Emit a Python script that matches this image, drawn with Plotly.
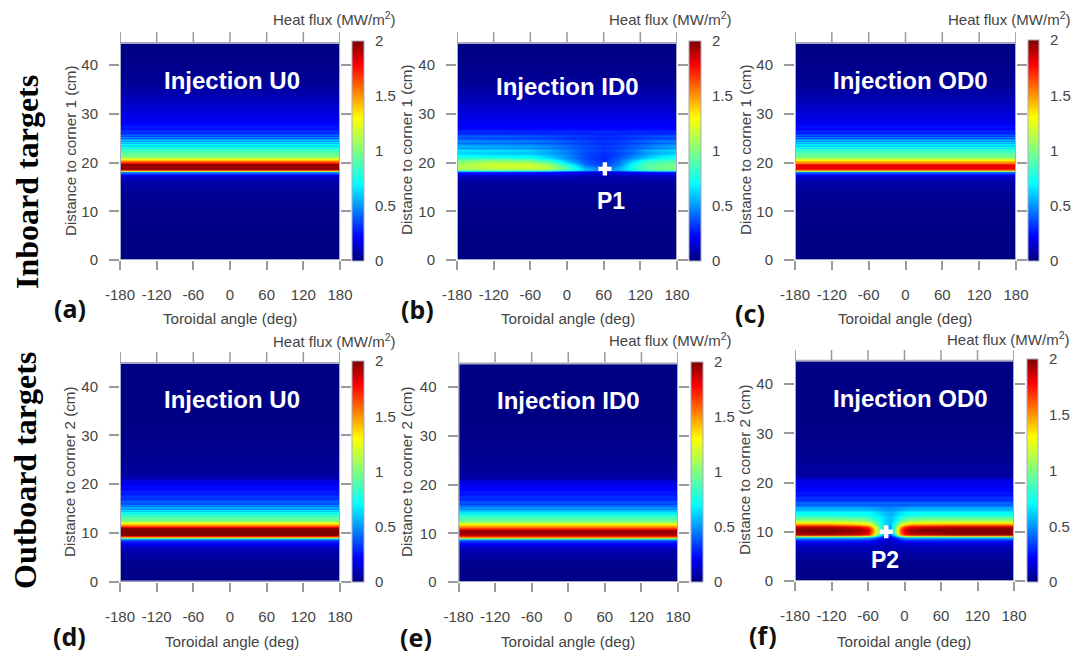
import plotly.graph_objects as go

W, H = 1079, 657
FONT = "Liberation Sans"
INK = "#444444"
FRAME = "#a9a9c2"
TICK = "#9a9a9a"

TOROIDAL_TICKS = [-180, -120, -60, 0, 60, 120, 180]
TOROIDAL_LABELS = ["-180", "-120", "-60", "0", "60", "120", "180"]
DISTANCE_TICKS = [0, 10, 20, 30, 40]
COLORBAR_TICKS = [0, 0.5, 1, 1.5, 2]
COLORBAR_LABELS = ["0", "0.5", "1", "1.5", "2"]

JET = [[0, "#00007f"], [0.11, "#0000ff"], [0.35, "#00ffff"], [0.5, "#7fff7f"],
       [0.65, "#ffff00"], [0.89, "#ff0000"], [1, "#7f0000"]]

# ---- inboard targets: distance to corner 1 (cm) ----
ends = [-180, 180]
y_in = [0, 5, 10, 14, 16, 17, 17.5, 18, 18.25, 18.5, 18.75, 19, 19.25, 19.5, 19.75, 20, 20.25,
        20.5, 20.75, 21, 21.25, 21.5, 21.75, 22, 22.25, 22.5, 22.75, 23, 23.25, 23.5, 23.75, 24,
        24.25, 24.5, 24.75, 25, 25.25, 25.5, 25.75, 26, 26.5, 27, 27.5, 28, 29, 30, 31, 32, 34,
        36, 38, 40, 44.4, 44.5]
flux_a = [0.01, 0.01, 0.02, 0.04, 0.07, 0.12, 0.2, 0.5, 1.2, 1.7, 1.95, 2.0, 1.92, 2.0, 1.95,
          1.75, 1.55, 1.4, 1.3, 1.1, 1.05, 0.95, 1.0, 0.85, 0.92, 0.8, 0.86, 0.68, 0.78, 0.62,
          0.7, 0.56, 0.64, 0.5, 0.6, 0.38, 0.5, 0.33, 0.42, 0.28, 0.32, 0.24, 0.27, 0.22, 0.19,
          0.18, 0.14, 0.13, 0.08, 0.05, 0.03, 0.02, 0.01, 0.01]
flux_c = [0.01, 0.01, 0.02, 0.04, 0.07, 0.12, 0.2, 0.45, 1.1, 1.55, 1.75, 1.85, 1.78, 1.85, 1.7,
          1.55, 1.42, 1.3, 1.2, 1.05, 1.0, 0.92, 0.98, 0.82, 0.9, 0.78, 0.84, 0.66, 0.76, 0.6,
          0.68, 0.54, 0.62, 0.48, 0.58, 0.36, 0.48, 0.31, 0.4, 0.26, 0.3, 0.22, 0.25, 0.2, 0.17,
          0.16, 0.13, 0.11, 0.07, 0.04, 0.03, 0.02, 0.01, 0.01]

angle_b = [-180, -120, -60, -30, 0, 30, 60, 85, 110, 130, 150, 180]
y_b = [0, 5, 10, 14, 16, 17, 17.5, 18, 18.25, 18.5, 19, 19.5, 20, 20.5, 21, 21.5, 22, 22.5, 23,
       23.5, 24, 24.5, 25, 25.5, 26, 26.5, 27, 28, 30, 32, 34, 36, 38, 40, 44.4, 44.5]
flux_b = [
    [0.01] * 12,
    [0.01] * 12,
    [0.02] * 12,
    [0.04] * 12,
    [0.06] * 12,
    [0.1, 0.1, 0.1, 0.1, 0.09, 0.08, 0.08, 0.08, 0.09, 0.09, 0.1, 0.1],
    [0.16, 0.16, 0.15, 0.15, 0.14, 0.12, 0.11, 0.12, 0.13, 0.14, 0.15, 0.15],
    [0.3, 0.3, 0.28, 0.26, 0.22, 0.18, 0.16, 0.18, 0.22, 0.25, 0.27, 0.28],
    [0.65, 0.65, 0.62, 0.6, 0.48, 0.36, 0.3, 0.36, 0.48, 0.55, 0.58, 0.6],
    [1.0, 1.02, 1.0, 0.98, 0.82, 0.58, 0.45, 0.55, 0.72, 0.85, 0.92, 0.95],
    [1.1, 1.15, 1.18, 1.12, 0.88, 0.55, 0.4, 0.55, 0.78, 0.9, 0.95, 1.0],
    [1.1, 1.2, 1.2, 1.1, 0.8, 0.45, 0.33, 0.48, 0.76, 0.9, 0.95, 1.0],
    [1.05, 1.15, 1.12, 0.95, 0.65, 0.4, 0.3, 0.45, 0.7, 0.85, 0.9, 0.95],
    [0.95, 1.0, 0.92, 0.78, 0.55, 0.38, 0.3, 0.42, 0.6, 0.75, 0.82, 0.85],
    [0.78, 0.8, 0.75, 0.62, 0.48, 0.35, 0.28, 0.38, 0.5, 0.6, 0.7, 0.75],
    [0.7, 0.66, 0.65, 0.58, 0.48, 0.36, 0.3, 0.36, 0.46, 0.55, 0.62, 0.68],
    [0.62, 0.6, 0.58, 0.52, 0.45, 0.35, 0.3, 0.35, 0.42, 0.5, 0.55, 0.6],
    [0.66, 0.64, 0.62, 0.55, 0.47, 0.38, 0.33, 0.38, 0.45, 0.54, 0.6, 0.64],
    [0.5, 0.5, 0.48, 0.44, 0.4, 0.34, 0.3, 0.33, 0.38, 0.42, 0.46, 0.5],
    [0.58, 0.56, 0.54, 0.5, 0.44, 0.38, 0.33, 0.36, 0.42, 0.46, 0.52, 0.56],
    [0.42, 0.42, 0.4, 0.38, 0.35, 0.32, 0.29, 0.31, 0.34, 0.37, 0.4, 0.42],
    [0.5, 0.48, 0.47, 0.44, 0.4, 0.36, 0.33, 0.35, 0.39, 0.42, 0.46, 0.48],
    [0.34, 0.34, 0.33, 0.32, 0.3, 0.29, 0.27, 0.28, 0.3, 0.32, 0.33, 0.34],
    [0.4, 0.4, 0.39, 0.37, 0.35, 0.33, 0.31, 0.32, 0.34, 0.36, 0.38, 0.4],
    [0.27] * 12,
    [0.3] * 12,
    [0.23] * 12,
    [0.21] * 12,
    [0.16] * 12,
    [0.12] * 12,
    [0.08] * 12,
    [0.05] * 12,
    [0.03] * 12,
    [0.02] * 12,
    [0.01] * 12,
    [0.01] * 12,
]

# ---- outboard targets: distance to corner 2 (cm) ----
y_out = [0, 4, 7, 8, 8.5, 8.75, 9, 9.25, 9.5, 10, 10.5, 11, 11.5, 12, 12.5, 13, 13.25, 13.5, 13.75,
         14, 14.25, 14.5, 14.75, 15, 15.25, 15.5, 15.75, 16, 16.5, 17, 17.5, 18, 18.5, 19, 19.5, 20,
         20.5, 20.8, 21, 21.5, 23, 26, 30, 34, 38, 44.7, 44.8]
flux_d = [0.01, 0.03, 0.1, 0.22, 0.35, 0.55, 0.95, 1.5, 2.0, 2.0, 2.0, 1.95, 1.6, 1.3, 1.02, 0.88,
          0.96, 0.78, 0.85, 0.68, 0.76, 0.58, 0.66, 0.48, 0.56, 0.42, 0.48, 0.36, 0.4, 0.3, 0.33,
          0.26, 0.28, 0.22, 0.24, 0.19, 0.18, 0.17, 0.1, 0.07, 0.05, 0.03, 0.02, 0.01, 0.01, 0.01,
          0.01]
flux_e = [0.01, 0.03, 0.1, 0.22, 0.35, 0.55, 0.95, 1.45, 1.85, 1.95, 1.98, 1.7, 1.5, 1.25, 1.0,
          0.86, 0.94, 0.76, 0.83, 0.66, 0.74, 0.56, 0.64, 0.46, 0.54, 0.4, 0.46, 0.34, 0.38, 0.28,
          0.31, 0.25, 0.27, 0.21, 0.23, 0.18, 0.17, 0.16, 0.09, 0.06, 0.05, 0.03, 0.02, 0.01, 0.01,
          0.01, 0.01]

angle_f = [-180, -120, -75, -60, -50, -40, -32, -24, -16, -8, 0, 10, 30, 80, 180]
y_f = [0, 4, 7, 8, 8.5, 8.75, 9, 9.25, 9.5, 10, 10.5, 11, 11.5, 12, 12.5, 13, 13.5, 14, 14.5, 15,
       15.5, 16, 16.5, 17, 17.5, 18, 18.5, 19, 19.5, 20, 20.5, 20.8, 21, 21.5, 23, 26, 30, 34, 38,
       44.6, 44.7]
flux_f = [
    [0.01] * 15,
    [0.03] * 15,
    [0.1] * 15,
    [0.2, 0.2, 0.2, 0.2, 0.18, 0.14, 0.12, 0.12, 0.14, 0.18, 0.2, 0.2, 0.2, 0.2, 0.2],
    [0.34, 0.34, 0.33, 0.32, 0.28, 0.2, 0.16, 0.15, 0.2, 0.28, 0.33, 0.34, 0.34, 0.34, 0.34],
    [0.55, 0.55, 0.55, 0.5, 0.42, 0.28, 0.2, 0.18, 0.28, 0.42, 0.52, 0.55, 0.55, 0.55, 0.55],
    [0.95, 0.95, 0.92, 0.85, 0.65, 0.38, 0.26, 0.22, 0.38, 0.68, 0.88, 0.92, 0.92, 0.95, 0.95],
    [1.45, 1.45, 1.4, 1.3, 1.0, 0.55, 0.34, 0.28, 0.55, 1.05, 1.3, 1.4, 1.4, 1.45, 1.45],
    [1.9, 1.9, 1.85, 1.75, 1.3, 0.75, 0.42, 0.34, 0.75, 1.45, 1.75, 1.85, 1.85, 1.95, 1.95],
    [1.98, 2.0, 1.95, 1.85, 1.45, 0.9, 0.55, 0.45, 0.95, 1.6, 1.85, 1.95, 1.98, 2.0, 2.0],
    [2.0, 2.0, 1.95, 1.85, 1.45, 0.9, 0.6, 0.5, 0.95, 1.6, 1.85, 1.95, 2.0, 2.0, 2.0],
    [1.9, 1.9, 1.8, 1.65, 1.3, 0.85, 0.6, 0.52, 0.9, 1.45, 1.7, 1.8, 1.85, 1.9, 1.9],
    [1.55, 1.55, 1.45, 1.35, 1.1, 0.8, 0.62, 0.55, 0.8, 1.15, 1.4, 1.5, 1.52, 1.55, 1.55],
    [1.22, 1.22, 1.18, 1.1, 0.92, 0.72, 0.62, 0.58, 0.72, 0.95, 1.1, 1.18, 1.2, 1.22, 1.22],
    [1.0, 1.0, 0.98, 0.92, 0.82, 0.7, 0.62, 0.58, 0.66, 0.82, 0.92, 0.97, 1.0, 1.0, 1.0],
    [0.88, 0.88, 0.86, 0.82, 0.75, 0.68, 0.62, 0.58, 0.64, 0.74, 0.82, 0.86, 0.88, 0.88, 0.88],
    [0.72, 0.72, 0.71, 0.7, 0.68, 0.63, 0.58, 0.55, 0.6, 0.66, 0.7, 0.71, 0.72, 0.72, 0.72],
    [0.72, 0.72, 0.72, 0.7, 0.66, 0.62, 0.58, 0.56, 0.6, 0.65, 0.69, 0.71, 0.72, 0.72, 0.72],
    [0.54, 0.54, 0.54, 0.53, 0.52, 0.5, 0.48, 0.47, 0.49, 0.51, 0.53, 0.54, 0.54, 0.54, 0.54],
    [0.56, 0.56, 0.56, 0.55, 0.54, 0.52, 0.5, 0.49, 0.51, 0.53, 0.55, 0.56, 0.56, 0.56, 0.56],
    [0.38] * 15,
    [0.42] * 15,
    [0.28] * 15,
    [0.32] * 15,
    [0.24] * 15,
    [0.27] * 15,
    [0.21] * 15,
    [0.23] * 15,
    [0.18] * 15,
    [0.19] * 15,
    [0.17] * 15,
    [0.16] * 15,
    [0.09] * 15,
    [0.06] * 15,
    [0.05] * 15,
    [0.03] * 15,
    [0.02] * 15,
    [0.01] * 15,
    [0.01] * 15,
    [0.01] * 15,
    [0.01] * 15,
]

P1_ANGLE, P1_DIST = [62], [18.7]
P2_ANGLE, P2_DIST = [-30], [10.0]

# panel geometry in pixels
panels = [
    dict(n=1, l=120, r=340, tick_top=32, bottom=260, per10=48.75, heat_top=44.5, cb=(352, 364, 41, 261),
         x=ends, y=y_in, z=[[v, v] for v in flux_a], title="Injection U0", tx=232, ty=80, letter="(a)", lx=70, ly=308,
         ylabel="Distance to corner 1 (cm)", ylx=70, yly=150, xlx=230, xly=319, hfx=398, hfy=19),
    dict(n=2, l=457, r=677, tick_top=32, bottom=260, per10=48.75, heat_top=44.5, cb=(689, 701, 41, 261),
         x=angle_b, y=y_b, z=flux_b, title="Injection ID0", tx=567, ty=87, letter="(b)", lx=417, ly=309,
         ylabel="Distance to corner 1 (cm)", ylx=406, yly=150, xlx=568, xly=319, hfx=734, hfy=19),
    dict(n=3, l=795, r=1016, tick_top=32, bottom=260, per10=48.75, heat_top=44.5, cb=(1028, 1039, 40, 261),
         x=ends, y=y_in, z=[[v, v] for v in flux_c], title="Injection OD0", tx=910, ty=80, letter="(c)", lx=750, ly=313,
         ylabel="Distance to corner 1 (cm)", ylx=745, yly=150, xlx=905, xly=319, hfx=1073, hfy=19),
    dict(n=4, l=120, r=340, tick_top=352, bottom=581.5, per10=48.75, heat_top=44.8, cb=(352, 364, 361, 582),
         x=ends, y=y_out, z=[[v, v] for v in flux_d], title="Injection U0", tx=232, ty=399, letter="(d)", lx=70, ly=636,
         ylabel="Distance to corner 2 (cm)", ylx=69, yly=472, xlx=232, xly=641, hfx=398, hfy=340),
    dict(n=5, l=458.5, r=678, tick_top=352, bottom=582, per10=48.75, heat_top=44.8, cb=(691, 703, 362, 582),
         x=ends, y=y_out, z=[[v, v] for v in flux_e], title="Injection ID0", tx=568, ty=400, letter="(e)", lx=416, ly=637,
         ylabel="Distance to corner 2 (cm)", ylx=406, yly=472, xlx=568, xly=641, hfx=734, hfy=339),
    dict(n=6, l=795, r=1014, tick_top=350, bottom=581, per10=49.25, heat_top=44.7, cb=(1027, 1038, 359, 582),
         x=angle_f, y=y_f, z=flux_f, title="Injection OD0", tx=910, ty=398, letter="(f)", lx=763, ly=635,
         ylabel="Distance to corner 2 (cm)", ylx=744, yly=470, xlx=904, xly=641, hfx=1072, hfy=338),
]

fig = go.Figure()
annotations, shapes, layout = [], [], {}


def label(text, px, py, size, color=INK, family=FONT, bold=False, angle=0, xanchor="center"):
    annotations.append(dict(
        text=f"<b>{text}</b>" if bold else text, x=px / W, y=1 - py / H, xref="paper", yref="paper",
        xanchor=xanchor, yanchor="middle", showarrow=False, textangle=angle,
        font=dict(family=family, size=size, color=color)))


for p in panels:
    n = p["n"]
    suffix = "" if n == 1 else str(n)
    y_top = (p["bottom"] - p["tick_top"]) / p["per10"] * 10
    left, right, cb_top, cb_bot = p["cb"][0], p["cb"][1], p["cb"][2], p["cb"][3]
    fig.add_trace(go.Heatmap(
        x=p["x"], y=p["y"], z=p["z"], xaxis=f"x{suffix}", yaxis=f"y{suffix}",
        colorscale=JET, zmin=0, zmax=2, zsmooth="best", hoverinfo="skip",
        colorbar=dict(
            x=left / W, xanchor="left", xpad=0,
            y=1 - cb_bot / H, yanchor="bottom", ypad=0,
            len=cb_bot - cb_top, lenmode="pixels", thickness=right - left, thicknessmode="pixels",
            outlinecolor=FRAME, outlinewidth=1, borderwidth=0,
            tickmode="array", tickvals=COLORBAR_TICKS, ticktext=COLORBAR_LABELS,
            ticks="outside", ticklen=8, tickwidth=1, tickcolor="rgba(0,0,0,0)",
            tickfont=dict(family=FONT, size=15, color=INK))))
    layout[f"xaxis{suffix}"] = dict(
        domain=[p["l"] / W, p["r"] / W], anchor=f"y{suffix}", range=[-180, 180],
        tickvals=TOROIDAL_TICKS, ticktext=TOROIDAL_LABELS, ticks="outside", ticklen=9, tickwidth=1.5, tickcolor=TICK,
        tickangle=0, showgrid=False, zeroline=False, showline=False, ticklabelstandoff=12,
        tickfont=dict(family=FONT, size=15, color=INK))
    layout[f"yaxis{suffix}"] = dict(
        domain=[1 - p["bottom"] / H, 1 - p["tick_top"] / H], anchor=f"x{suffix}", range=[0, y_top],
        tickvals=DISTANCE_TICKS, ticks="outside", ticklen=10, tickwidth=1.5, tickcolor=TICK,
        mirror="ticks", showgrid=False, zeroline=False, showline=False, ticklabelstandoff=8,
        tickfont=dict(family=FONT, size=15, color=INK))
    for t in TOROIDAL_TICKS:
        shapes.append(dict(type="line", xref=f"x{suffix}", yref=f"y{suffix} domain", x0=t, x1=t, y0=0.955, y1=1,
                           line=dict(color=TICK, width=1.5)))
    for t in (-180, 180):
        shapes.append(dict(type="line", xref=f"x{suffix}", yref=f"y{suffix} domain", x0=t, x1=t, y0=0, y1=1,
                           line=dict(color=TICK, width=1)))
    shapes.append(dict(type="rect", xref=f"x{suffix}", yref=f"y{suffix}", x0=-180, x1=180, y0=0, y1=p["heat_top"],
                       line=dict(color=FRAME, width=2)))
    label(p["title"], p["tx"], p["ty"], 24, color="white", bold=True)
    label(p["letter"], p["lx"], p["ly"], 25, color="#111111", family="Noto Sans", bold=True)
    label(p["ylabel"], p["ylx"], p["yly"], 15.2, angle=-90)
    label("Toroidal angle (deg)", p["xlx"], p["xly"], 15.2)
    label("Heat flux (MW/m<sup>2</sup>)", p["hfx"], p["hfy"], 15, xanchor="right")

fig.add_trace(go.Scatter(x=P1_ANGLE, y=P1_DIST, xaxis="x2", yaxis="y2", mode="markers", hoverinfo="skip",
                         marker=dict(symbol="cross", size=11, color="white", line=dict(width=0))))
fig.add_trace(go.Scatter(x=P2_ANGLE, y=P2_DIST, xaxis="x6", yaxis="y6", mode="markers", hoverinfo="skip",
                         marker=dict(symbol="cross", size=11, color="white", line=dict(width=0))))
label("P1", 611, 201, 23, color="white", bold=True)
label("P2", 885, 560, 23, color="white", bold=True)
label("Inboard targets", 27, 182, 32, color="#000000", family="Liberation Serif", bold=True, angle=-90)
label("Outboard targets", 25, 471, 32, color="#000000", family="Liberation Serif", bold=True, angle=-90)

fig.update_layout(width=W, height=H, autosize=False, margin=dict(l=0, r=0, t=0, b=0, autoexpand=False),
                  paper_bgcolor="white", plot_bgcolor="white", showlegend=False,
                  annotations=annotations, shapes=shapes, **layout)
fig.write_html("out.html", post_script="document.body.style.margin='0';", config=dict(displayModeBar=False))
